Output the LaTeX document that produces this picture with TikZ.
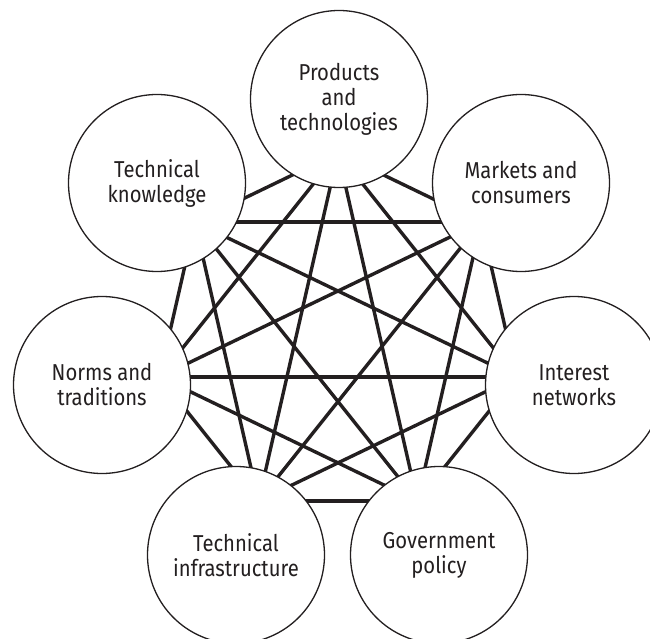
\documentclass[tikz,border=0pt]{standalone}
\usepackage{fontspec}
\setmainfont{Fira Sans}[FakeStretch=0.88]
\definecolor{ink}{HTML}{231F20}
\begin{document}
\begin{tikzpicture}[x=1pt,y=-1pt,
  topic/.style={circle, draw=ink, line width=1.3pt, fill=white, minimum size=177pt,
    inner sep=0pt, align=center, text=ink, font=\fontsize{23}{25}\selectfont},
  link/.style={draw=ink, line width=3.4pt}]
\useasboundingbox (0,0) rectangle (650,639);
% inner heptagon points where the links meet
\coordinate (p0) at (338,153);
\coordinate (p1) at (481.1,222.1);
\coordinate (p2) at (516.4,376.9);
\coordinate (p3) at (417.4,501.1);
\coordinate (p4) at (258.6,501.1);
\coordinate (p5) at (159.6,376.9);
\coordinate (p6) at (194.9,222.1);
\foreach \a/\b in {0/1,0/2,0/3,0/4,0/5,0/6,1/2,1/3,1/4,1/5,1/6,2/3,2/4,2/5,2/6,3/4,3/5,3/6,4/5,4/6,5/6}
  \draw[link] (p\a) -- (p\b);
\node[topic] (prod) at (339,99) {Products\\and\\technologies};
\node[topic] (mark) at (521,183) {Markets and\\consumers};
\node[topic] (inte) at (574,385) {Interest\\networks};
\node[topic] (gov) at (439,555) {Government\\policy};
\node[topic] (infra) at (236,555) {Technical\\infrastructure};
\node[topic] (norm) at (102,385) {Norms and\\traditions};
\node[topic] (know) at (157,183) {Technical\\knowledge};
\end{tikzpicture}
\end{document}
